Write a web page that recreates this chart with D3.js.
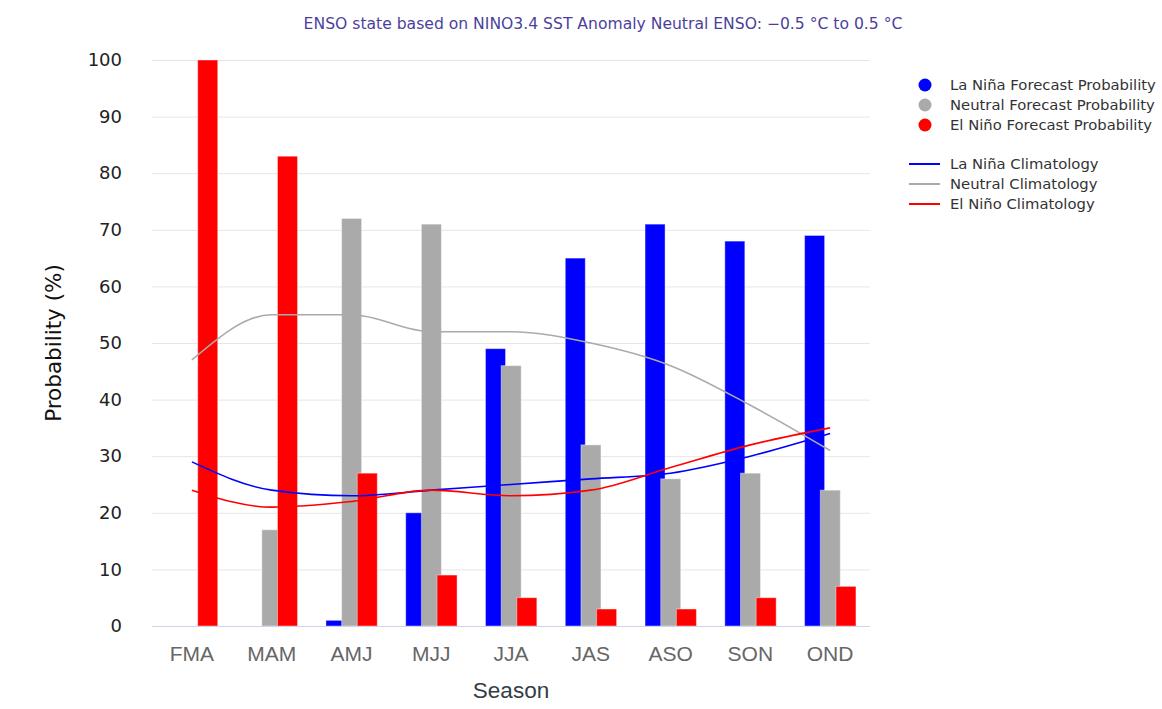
<!DOCTYPE html>
<html>
<head>
<meta charset="utf-8">
<script src="https://cdn.jsdelivr.net/npm/d3@7"></script>
<style>
  body { margin: 0; background: #fff; }
  svg { display: block; }
</style>
</head>
<body>
<svg id="chart" width="1162" height="709"></svg>
<script>
var seasons = ["FMA","MAM","AMJ","MJJ","JJA","JAS","ASO","SON","OND"];
var yTicks = [0,10,20,30,40,50,60,70,80,90,100];

// forecast probabilities (%)
var laNinaProb  = [0, 0, 1, 20, 49, 65, 71, 68, 69];
var neutralProb = [0, 17, 72, 71, 46, 32, 26, 27, 24];
var elNinoProb  = [100, 83, 27, 9, 5, 3, 3, 5, 7];

// climatology (%)
var laNinaClim  = [29, 24, 23, 24, 25, 26, 27, 30, 34];
var neutralClim = [47, 55, 55, 52, 52, 50, 46, 39, 31];
var elNinoClim  = [24, 21, 22, 24, 23, 24, 28, 32, 35];

var probSeries = [
  {name:"La Niña Forecast Probability", color:"#0000ff", values:laNinaProb},
  {name:"Neutral Forecast Probability", color:"#aaaaaa", values:neutralProb},
  {name:"El Niño Forecast Probability", color:"#ff0000", values:elNinoProb}
];
var climSeries = [
  {name:"La Niña Climatology", color:"#0000ff", values:laNinaClim},
  {name:"Neutral Climatology", color:"#aaaaaa", values:neutralClim},
  {name:"El Niño Climatology", color:"#ff0000", values:elNinoClim}
];

var plot = {left:152, right:870, top:60, bottom:626};
var svg = d3.select("#chart");

var x0 = d3.scaleBand().domain(seasons).range([plot.left, plot.right]);
var x1 = d3.scaleBand().domain(d3.range(3)).range([-25.5, 21.5]); // step ~15.7
var barW = 20;
var y = d3.scaleLinear().domain([0,100]).range([plot.bottom, plot.top]);

// title
svg.append("text")
  .attr("x", 603).attr("y", 29)
  .attr("text-anchor","middle")
  .style("font-family","'DejaVu Sans', sans-serif")
  .style("font-size","15.6px")
  .style("fill","#4b3f9e")
  .text("ENSO state based on NINO3.4 SST Anomaly Neutral ENSO: \u22120.5 \u00b0C to 0.5 \u00b0C");

// grid
svg.append("g").selectAll("line")
  .data(yTicks.filter(function(d){return d>0;}))
  .enter().append("line")
  .attr("x1", plot.left).attr("x2", plot.right)
  .attr("y1", function(d){return y(d)+0.5;}).attr("y2", function(d){return y(d)+0.5;})
  .attr("stroke","#e6e6e6").attr("stroke-width",1);

// y axis
var yAxis = d3.axisLeft(y).tickValues(yTicks).tickSize(0).tickPadding(30);
var gy = svg.append("g").attr("transform","translate("+plot.left+",0)").call(yAxis);
gy.select(".domain").remove();
gy.selectAll("text")
  .style("font-family","'DejaVu Sans', sans-serif")
  .style("font-size","18px")
  .style("fill","#222");

svg.append("text")
  .attr("transform","translate(61,"+((plot.top+plot.bottom)/2)+") rotate(-90)")
  .attr("text-anchor","middle")
  .style("font-family","'DejaVu Sans', sans-serif")
  .style("font-size","21.5px")
  .style("fill","#111")
  .text("Probability (%)");

// bars
var groups = svg.append("g").selectAll("g")
  .data(seasons).enter().append("g")
  .attr("transform", function(d){return "translate("+(x0(d)+x0.bandwidth()/2)+",0)";});

groups.selectAll("rect")
  .data(function(d,i){
    return probSeries.map(function(s,k){return {k:k, v:s.values[i], color:s.color};});
  })
  .enter().append("rect")
  .attr("x", function(d){return x1(d.k);})
  .attr("width", barW)
  .attr("y", function(d){return y(d.v);})
  .attr("height", function(d){return y(0)-y(d.v);})
  .attr("fill", function(d){return d.color;})
  .attr("stroke", function(d){return d.v>0 ? "rgba(255,255,255,0.4)" : "none";})
  .attr("stroke-width", 1);

// x axis
svg.append("line")
  .attr("x1", plot.left).attr("x2", plot.right)
  .attr("y1", plot.bottom+0.5).attr("y2", plot.bottom+0.5)
  .attr("stroke","#ccd6eb").attr("stroke-width",1);

var xAxis = d3.axisBottom(x0).tickSize(0).tickPadding(20);
var gx = svg.append("g").attr("transform","translate(0,"+plot.bottom+")").call(xAxis);
gx.select(".domain").remove();
gx.selectAll("text")
  .style("font-family","'Liberation Sans', Arial, sans-serif")
  .style("font-size","21px")
  .style("fill","#666");

svg.append("text")
  .attr("x", (plot.left+plot.right)/2).attr("y", 698)
  .attr("text-anchor","middle")
  .style("font-family","'Liberation Sans', Arial, sans-serif")
  .style("font-size","22.5px")
  .style("fill","#333d47")
  .text("Season");

// climatology splines
var line = d3.line()
  .x(function(d,i){return x0(seasons[i])+x0.bandwidth()/2;})
  .y(function(d){return y(d);})
  .curve(d3.curveMonotoneX);

svg.append("g").selectAll("path")
  .data(climSeries).enter().append("path")
  .attr("d", function(d){return line(d.values);})
  .attr("fill","none")
  .attr("stroke", function(d){return d.color;})
  .attr("stroke-width", 1.6);

// legend
var leg = svg.append("g");
var legFont = "'DejaVu Sans', sans-serif";
probSeries.forEach(function(s,i){
  var ly = 85 + i*20;
  leg.append("circle").attr("cx",925).attr("cy",ly).attr("r",6.5).attr("fill",s.color);
  leg.append("text").attr("x",950).attr("y",ly+5)
    .style("font-family",legFont).style("font-size","14.8px").style("fill","#333")
    .text(s.name);
});
climSeries.forEach(function(s,i){
  var ly = 164 + i*20;
  leg.append("line").attr("x1",909).attr("x2",940).attr("y1",ly).attr("y2",ly)
    .attr("stroke",s.color).attr("stroke-width",2);
  leg.append("text").attr("x",950).attr("y",ly+5)
    .style("font-family",legFont).style("font-size","14.8px").style("fill","#333")
    .text(s.name);
});
</script>
</body>
</html>
